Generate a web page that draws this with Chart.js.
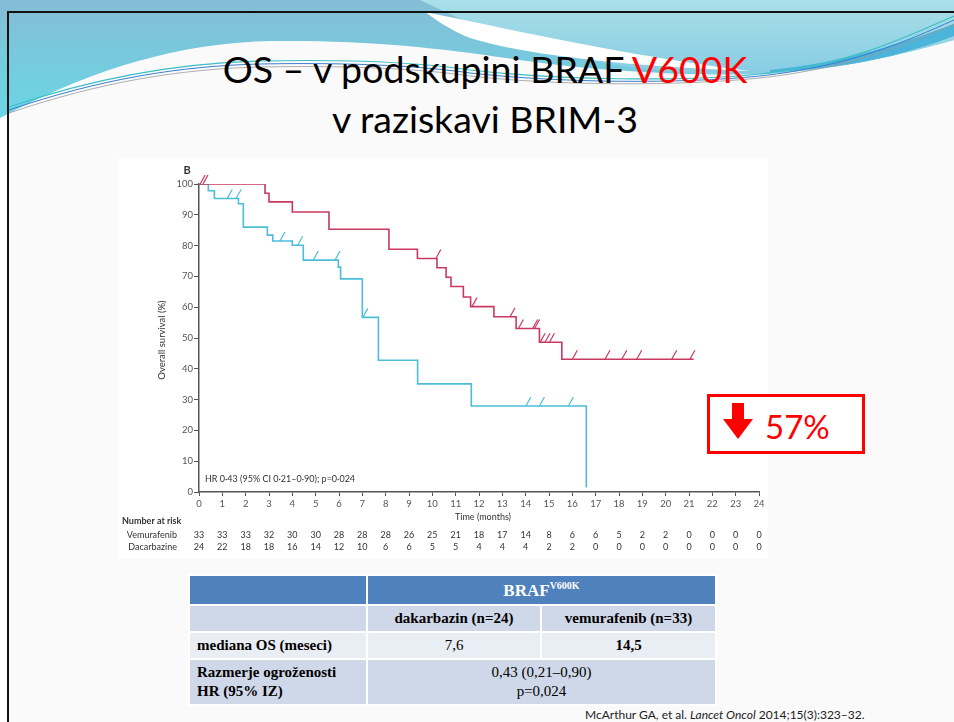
<!DOCTYPE html>
<html>
<head>
<meta charset="utf-8">
<script src="https://cdn.jsdelivr.net/npm/chart.js@4.4.1/dist/chart.umd.min.js"></script>
<style>
  body { margin: 0; width: 954px; height: 722px; overflow: hidden; background: #fff; position: relative; font-family: Lato, sans-serif; }
  #slide { position: absolute; left: 9px; top: 13px; right: 0; bottom: 0; background: #fafafa; }
  #wave { position: absolute; left: 0; top: 0; }
  .bline { position: absolute; background: #111; }
  .title { position: absolute; left: 0; width: 970px; text-align: center; font-size: 37.5px; line-height: 38px; color: #000; white-space: nowrap; }
  #fig { position: absolute; left: 118px; top: 158px; width: 650px; height: 400px; background: #fff; }
  #box { position: absolute; left: 707px; top: 394px; width: 158px; height: 60px; box-sizing: border-box; border: 3px solid #f00; background: #fff; }
  #box svg { position: absolute; left: 12px; top: 6px; }
  #box span { position: absolute; left: 55px; top: 9px; font-size: 33px; line-height: 40px; color: #f00; }
  #tbl { position: absolute; left: 188px; top: 574px; border-collapse: separate; border-spacing: 2px; background: #fff;
         font-family: "Liberation Serif", "Times New Roman", serif; font-size: 15px; color: #000; }
  #tbl td { padding: 0; text-align: center; }
  #tbl tr.h td { background: #4f81bd; height: 28px; color: #fff; font-weight: bold; font-size: 17px; }
  #tbl tr.h sup { font-size: 10px; }
  #tbl tr.a td { background: #cfd8e8; }
  #tbl tr.b td { background: #e9edf4; }
  #tbl td.lab { text-align: left; padding-left: 7px; font-weight: bold; }
  #cite { position: absolute; left: 585px; top: 707px; font-size: 12px; color: #222; white-space: nowrap; }
</style>
</head>
<body>
<div id="slide"></div>

<svg id="wave" width="954" height="130">
  <defs>
    <linearGradient id="gL" x1="0" y1="0" x2="0" y2="1">
      <stop offset="0" stop-color="#84bdd5"/>
      <stop offset="1" stop-color="#6ad6e6"/>
    </linearGradient>
    <linearGradient id="gR" x1="0" y1="0" x2="0" y2="1">
      <stop offset="0" stop-color="#aadfe8"/>
      <stop offset="1" stop-color="#86cde4"/>
    </linearGradient>
  </defs>
  <path d="M0,0 H954 V40 C900,55 840,70 760,74 C700,76 600,72 520,60 C440,48 370,40 270,41 C170,43 80,75 0,118 Z" fill="url(#gL)"/>
  <path d="M420,0 H954 V40 C900,55 840,70 760,74 C700,75 640,70 600,62 C540,50 480,30 420,0 Z" fill="url(#gR)"/>
  <path d="M425,12 C505,28 615,54 750,71 C620,66 520,54 470,38 C450,30 436,20 425,12 Z" fill="#fff"/>
  <path d="M770,70 C850,62 905,42 954,24 V36 C900,56 850,68 770,72 Z" fill="#4cb3da"/>
  <path d="M9,107 C100,76 180,63 260,61 C360,59 430,64 470,70 C560,80 680,82 760,74 C850,64 900,40 954,16" stroke="#3bbfc6" stroke-width="1.2" fill="none"/>
  <path d="M9,110 C100,79 180,66 260,64 C360,62 430,67 470,73 C560,83 680,84 760,76 C850,66 905,42 954,20" stroke="#3a7fd0" stroke-width="1" fill="none"/>
  <path d="M9,113 C100,82 180,69 260,67 C360,65 430,70 470,76 C560,86 680,86 760,78 C850,68 905,45 954,24" stroke="#9a9a9a" stroke-width="0.8" fill="none"/>
</svg>
<div class="bline" style="left:7px;top:11px;width:947px;height:2px"></div>
<div class="bline" style="left:7px;top:11px;width:2px;height:711px"></div>

<div class="title" style="top:50px">OS – v podskupini BRAF <span style="color:#f00">V600K</span></div>
<div class="title" style="top:100px">v raziskavi BRIM-3</div>

<div id="fig"><canvas id="graphique" width="650" height="400"></canvas></div>

<div id="box">
  <svg width="32" height="38"><polygon points="10,0 22,0 22,16 31,16 16,36 1,16 10,16" fill="#f00"/></svg>
  <span>57%</span>
</div>

<table id="tbl">
  <tr class="h"><td style="width:176px"></td><td colspan="2">BRAF<sup>V600K</sup></td></tr>
  <tr class="a" style="height:25px"><td></td><td style="width:172px"><b>dakarbazin (n=24)</b></td><td style="width:173px"><b>vemurafenib (n=33)</b></td></tr>
  <tr class="b" style="height:25px"><td class="lab">mediana OS (meseci)</td><td>7,6</td><td><b>14,5</b></td></tr>
  <tr class="a" style="height:44px;line-height:19px"><td class="lab">Razmerje ogroženosti<br>HR (95% IZ)</td><td colspan="2">0,43 (0,21–0,90)<br>p=0,024</td></tr>
</table>

<div id="cite">McArthur GA, et al. <i>Lancet Oncol</i> 2014;15(3):323–32.</div>

<script>
// Vemurafenib (rouge) : temps (mois) et survie (%) après chaque marche
const vemTime = [0, 2.83, 3.0, 4.0, 5.57, 8.14, 9.36, 10.2, 10.59, 10.8, 11.33, 11.64, 12.64, 13.59, 14.59, 15.55, 21.2];
const vemSurv = [100, 97.0, 94.2, 90.9, 85.3, 78.8, 75.8, 72.8, 69.7, 66.7, 63.3, 60.2, 56.9, 53.1, 48.6, 43.1, 43.1];
const vemCensor = [0.05, 0.17, 10.15, 11.7, 13.33, 13.69, 14.3, 14.38, 14.62, 14.83, 15.02, 16.0, 17.4, 18.12, 18.76, 20.26, 21.04];

// Dacarbazine (bleu)
const dacTime = [0, 0.4, 0.66, 1.69, 1.9, 2.93, 3.16, 4.0, 4.47, 5.97, 6.07, 7.0, 7.69, 9.37, 11.67, 16.6];
const dacSurv = [100, 97.8, 95.3, 93.6, 86.0, 83.4, 81.5, 80.1, 75.3, 73.0, 69.2, 56.7, 42.8, 35.1, 27.9, 1.5];
const dacCensor = [1.21, 1.59, 3.47, 4.23, 4.9, 5.83, 7.02, 14.01, 14.59, 15.83];

// Number at risk
const riskTimes = [0, 1, 2, 3, 4, 5, 6, 7, 8, 9, 10, 11, 12, 13, 14, 15, 16, 17, 18, 19, 20, 21, 22, 23, 24];
const riskVem = [33, 33, 33, 32, 30, 30, 28, 28, 28, 26, 25, 21, 18, 17, 14, 8, 6, 6, 5, 2, 2, 0, 0, 0, 0];
const riskDac = [24, 22, 18, 18, 16, 14, 12, 10, 6, 6, 5, 5, 4, 4, 4, 2, 2, 0, 0, 0, 0, 0, 0, 0, 0];

const RED = '#c9395f';
const BLUE = '#4bbdd7';
const FIG_FONT = "'Liberation Sans Narrow', Lato, sans-serif";

function points(times, surv) {
    return times.map((t, i) => ({ x: t, y: surv[i] }));
}

function valeurA(times, surv, t) {
    let v = surv[0];
    for (let i = 0; i < times.length; i++) {
        if (times[i] <= t) v = surv[i];
    }
    return v;
}

// Textes, marques de censure et tableau "Number at risk"
const extras = {
    id: 'extras',
    afterDatasetsDraw(chart) {
        const ctx = chart.ctx;
        const x = chart.scales.x;
        const y = chart.scales.y;
        ctx.save();
        ctx.lineWidth = 1.2;
        [[vemCensor, vemTime, vemSurv, RED], [dacCensor, dacTime, dacSurv, BLUE]].forEach(([cens, tt, ss, col]) => {
            ctx.strokeStyle = col;
            cens.forEach(t => {
                const px = x.getPixelForValue(t);
                const py = y.getPixelForValue(valeurA(tt, ss, t));
                ctx.beginPath();
                ctx.moveTo(px, py);
                ctx.lineTo(px + 5, py - 9);
                ctx.stroke();
            });
        });
        ctx.restore();
    },
    afterDraw(chart) {
        const ctx = chart.ctx;
        const x = chart.scales.x;
        ctx.save();
        ctx.fillStyle = '#333';
        ctx.textBaseline = 'middle';

        ctx.font = 'bold 11px ' + FIG_FONT;
        ctx.textAlign = 'center';
        ctx.fillText('B', 69, 12);

        ctx.font = '9px ' + FIG_FONT;
        ctx.textAlign = 'left';
        ctx.fillText('HR 0·43 (95% CI 0·21–0·90); p=0·024', 87, 321);

        ctx.textAlign = 'center';
        ctx.fillText('Time (months)', 365, 359);

        ctx.save();
        ctx.translate(44, 182);
        ctx.rotate(-Math.PI / 2);
        ctx.font = '9.5px ' + FIG_FONT;
        ctx.fillText('Overall survival (%)', 0, 0);
        ctx.restore();

        ctx.font = 'bold 9px ' + FIG_FONT;
        ctx.textAlign = 'left';
        ctx.fillText('Number at risk', 4, 363);

        ctx.font = '9px ' + FIG_FONT;
        ctx.textAlign = 'right';
        ctx.fillText('Vemurafenib', 59, 377);
        ctx.fillText('Dacarbazine', 59, 389);

        ctx.textAlign = 'center';
        riskTimes.forEach((t, i) => {
            const px = x.getPixelForValue(t);
            ctx.fillText(String(riskVem[i]), px, 377);
            ctx.fillText(String(riskDac[i]), px, 389);
        });
        ctx.restore();
    }
};

const ctx = document.getElementById('graphique').getContext('2d');
new Chart(ctx, {
    type: 'line',
    data: {
        datasets: [
            { label: 'Vemurafenib', data: points(vemTime, vemSurv), borderColor: RED, borderWidth: 1.6, stepped: 'before', pointRadius: 0, fill: false },
            { label: 'Dacarbazine', data: points(dacTime, dacSurv), borderColor: BLUE, borderWidth: 1.6, stepped: 'before', pointRadius: 0, fill: false }
        ]
    },
    options: {
        responsive: false,
        animation: false,
        layout: { padding: { top: 26, right: 9, left: 0, bottom: 0 } },
        plugins: { legend: { display: false }, tooltip: { enabled: false }, title: { display: false } },
        scales: {
            x: {
                type: 'linear', min: 0, max: 24,
                afterFit: s => { s.height = 66; },
                border: { display: true, color: '#555', width: 1.5 },
                grid: { drawOnChartArea: false, drawTicks: true, tickLength: 4, color: '#555' },
                ticks: { stepSize: 1, autoSkip: false, padding: 2, color: '#555', font: { size: 9.5, family: FIG_FONT } }
            },
            y: {
                min: 0, max: 100,
                afterFit: s => { s.width = 81; },
                border: { display: true, color: '#555', width: 1.5 },
                grid: { drawOnChartArea: false, drawTicks: true, tickLength: 5, color: '#555' },
                ticks: { stepSize: 10, padding: 1, color: '#555', font: { size: 9.5, family: FIG_FONT } }
            }
        }
    },
    plugins: [extras]
});
</script>
</body>
</html>
